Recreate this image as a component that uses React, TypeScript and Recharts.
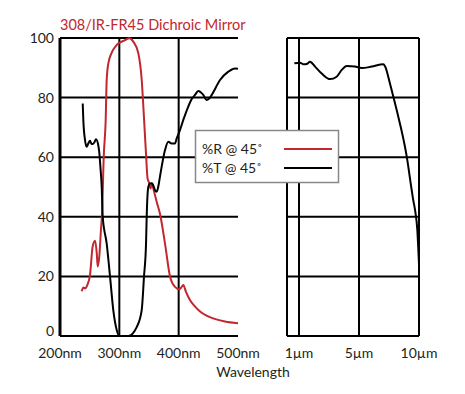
import React from 'react';
import { LineChart, Line, XAxis, YAxis, CartesianGrid, ReferenceLine } from 'recharts';

const W = 465;
const H = 394;
const RED = '#c1272d';
const INK = '#231f20';
const FONT = 'Lato, "Liberation Sans", sans-serif';

const percentTicks = [0, 20, 40, 60, 80, 100];
const uvTicks = [200, 300, 400, 500];
const uvGridLines = [300, 400];
const irTickMicrons = [1, 5, 10];
const irTickLabels = ['1µm', '5µm', '10µm'];

// %R @ 45° (UV panel)
const rWavelength = [
  236.6, 239.3, 242, 246, 250.6, 255, 259, 262, 263.5, 266.2, 269, 271.3, 272.5, 273.5, 277,
  278.7, 281.5, 287, 295.6, 306.8, 316.8, 323.5, 332, 337.7, 341.6, 345, 347.5, 350, 352.5,
  355, 358.5, 363, 368.5, 377, 385.4, 393.8, 401, 404, 407.8, 412, 419, 427, 436, 447, 458,
  478, 500,
];
const rPercent = [
  15, 16.3, 16, 17.1, 20.5, 30, 32, 27.7, 23.3, 26.6, 35.6, 43, 52, 59, 72.5,
  86, 91.5, 95, 97.7, 99, 99.9, 98.8, 94.9, 86, 73, 61, 53, 51.5, 49.5,
  51, 48.5, 45, 41, 31, 20, 16.5, 15.7, 16.2, 17.1, 15, 12.1, 10, 8.2, 6.8, 5.9,
  4.9, 4.3,
];

// %T @ 45° (UV panel)
const tWavelength = [
  238.3, 239.3, 242, 245, 247.5, 250.6, 253, 255, 258, 260.7, 264.5, 266, 268, 270.3, 272,
  278.7, 284.3, 289.8, 295.6, 300, 315, 329.3, 337.7, 341.6, 345, 346.1, 348.8, 351.7, 355,
  357.2, 360, 363, 365.5, 368.5, 377, 382.5, 388.2, 393.8, 396.7, 402, 407.8, 416.2, 422,
  427.5, 433, 437, 441.5, 447.2, 451, 455.7, 469.7, 483.7, 495, 500,
];
const tPercent = [
  78, 72.5, 66, 63.5, 64.5, 65.5, 64.5, 64.4, 65, 66, 64, 62, 57, 50, 40,
  31, 20, 8.7, 2, 0, 0, 3, 8.7, 20, 31, 40, 50, 51.2, 51.3,
  50.5, 49, 48.4, 50, 53.5, 62.4, 65.2, 64.6, 64.6, 66.3, 69, 72.5, 77, 79.5,
  80.9, 82.2, 81.8, 80.9, 79.2, 79.6, 80.9, 85.9, 88.7, 89.8, 89.7,
];

// %T @ 45° (IR panel, µm)
const irWavelength = [
  0.69, 1.07, 1.3, 1.51, 1.73, 2.07, 2.51, 3.07, 3.51, 3.85, 4.18, 4.73, 5.22, 6.06, 7.03,
  7.17, 7.58, 7.86, 8.14, 8.98, 9.39, 9.52, 9.67, 9.86, 10,
];
const irPercent = [
  91.5, 91.7, 91.2, 91.3, 92, 90.4, 88.1, 86.2, 87, 89.3, 90.6, 90.4, 89.9, 90.4, 91.2,
  90.5, 84.7, 80.3, 75.8, 60.2, 49, 45.6, 42.3, 35.6, 24,
];

const legendLabels = ['%R @ 45˚', '%T @ 45˚'];
const legendColors = [RED, '#000'];

// IR axis is drawn linear between the labelled ticks: 1→5 and 5→10 take equal widths
const irPos = (um: number) => (um <= 5 ? (um - 1) / 4 : 1 + (um - 5) / 5);

const rRows = rWavelength.map((nm, i) => ({ nm, v: rPercent[i] }));
const tRows = tWavelength.map((nm, i) => ({ nm, v: tPercent[i] }));
const irRows = irWavelength.map((um, i) => ({ p: irPos(um), v: irPercent[i] }));
const irTicks = irTickMicrons.map(irPos);

const tickStyle = { fill: INK, fontSize: 14, fontFamily: FONT };
const layer: React.CSSProperties = { position: 'absolute', left: 0, top: 0 };

// the "0" label sits just above the bottom line in the original
const PercentTick = (props: any) => {
  const { x, y, payload } = props;
  const lift = payload.value === 0 ? -5 : 0;
  return (
    <text x={x} y={y + lift} dy="0.355em" textAnchor="end" {...tickStyle}>
      {payload.value}
    </text>
  );
};

export default function App() {
  return (
    <div style={{ position: 'absolute', left: 0, top: 0, width: W, height: H, background: '#fff' }}>
      <div style={layer}>
        <LineChart width={W} height={H} margin={{ top: 38, right: 227, bottom: 28, left: 20 }}>
          <CartesianGrid vertical={false} stroke="#000" strokeWidth={2} />
          {uvGridLines.map((x) => (
            <ReferenceLine key={x} x={x} stroke="#000" strokeWidth={2} />
          ))}
          <XAxis
            type="number"
            dataKey="nm"
            domain={[200, 500]}
            ticks={uvTicks}
            tickFormatter={(v) => `${v}nm`}
            axisLine={false}
            tickLine={false}
            tickMargin={6}
            height={30}
            tick={tickStyle}
            allowDataOverflow
          />
          <YAxis
            type="number"
            domain={[0, 100]}
            ticks={percentTicks}
            width={40}
            axisLine={{ stroke: '#000', strokeWidth: 3 }}
            tickLine={false}
            tickMargin={0}
            tick={<PercentTick />}
          />
          <Line data={rRows} dataKey="v" type="monotone" stroke={RED} strokeWidth={2} dot={false} isAnimationActive={false} />
          <Line data={tRows} dataKey="v" type="monotone" stroke="#000" strokeWidth={2} dot={false} isAnimationActive={false} />
        </LineChart>
      </div>
      <div style={layer}>
        <LineChart width={W} height={H} margin={{ top: 38, right: 46, bottom: 28, left: 287 }}>
          <CartesianGrid stroke="#000" strokeWidth={2} />
          <XAxis
            type="number"
            dataKey="p"
            domain={[-0.2, 2]}
            ticks={irTicks}
            tickFormatter={(v) => irTickLabels[irTicks.indexOf(v)] ?? ''}
            axisLine={false}
            tickLine={false}
            tickMargin={6}
            height={30}
            tick={tickStyle}
            allowDataOverflow
          />
          <YAxis type="number" domain={[0, 100]} ticks={percentTicks} hide />
          <Line data={irRows} dataKey="v" type="monotone" stroke="#000" strokeWidth={2} dot={false} isAnimationActive={false} />
        </LineChart>
      </div>
      <svg width={W} height={H} style={layer}>
        <text x={60} y={30} fill={RED} fontSize={14.5} fontFamily={FONT}>
          308/IR-FR45 Dichroic Mirror
        </text>
        <text x={253} y={377} fill={INK} fontSize={14} fontFamily={FONT} textAnchor="middle">
          Wavelength
        </text>
        <rect x={195.5} y={130.5} width={143} height={52} fill="#fff" stroke="#888" strokeWidth={1.5} />
        {legendLabels.map((label, i) => (
          <g key={label}>
            <text x={202} y={154 + i * 19} fill={INK} fontSize={14} fontFamily={FONT}>
              {label}
            </text>
            <line x1={284} x2={332} y1={149 + i * 19} y2={149 + i * 19} stroke={legendColors[i]} strokeWidth={2} />
          </g>
        ))}
      </svg>
    </div>
  );
}
